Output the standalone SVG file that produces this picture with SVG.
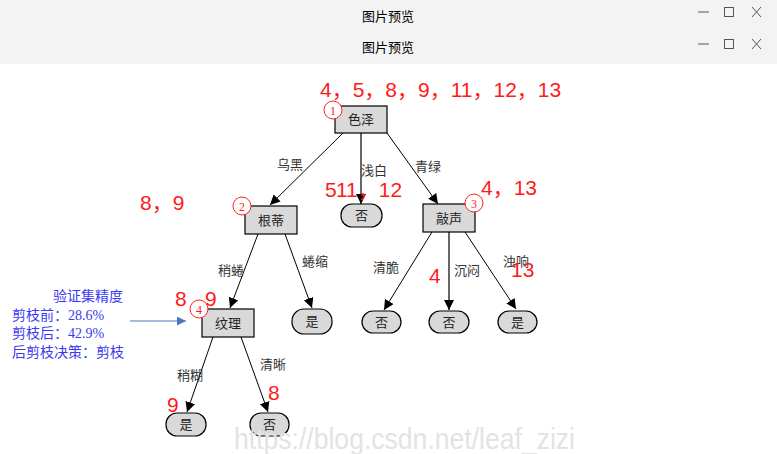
<svg xmlns="http://www.w3.org/2000/svg" width="777" height="454" viewBox="0 0 777 454">
<style>
.bar{fill:#f3f3f3}
.ttl{font-family:"Noto Sans CJK SC",sans-serif;font-size:13px;fill:#000;text-anchor:middle}
.ctl{stroke:#555;stroke-width:1;fill:none}
.box{fill:#d9d9d9;stroke:#000;stroke-width:1.2}
.lbl{font-family:"Noto Sans CJK SC",sans-serif;font-size:13px;fill:#222;text-anchor:middle}
.el{font-family:"Noto Sans CJK SC",sans-serif;font-size:13px;fill:#333;text-anchor:middle}
.red{font-family:"Liberation Sans",Arial,"Noto Sans CJK SC",sans-serif;font-size:21px;fill:#ff1a1a}
.circ{fill:#fff;stroke:#ff2020;stroke-width:1}
.cn{font-family:"Liberation Serif",serif;font-size:12px;fill:#ff2020;text-anchor:middle}
.edge{stroke:#000;stroke-width:1;fill:none}
.vedge{stroke:#666;stroke-width:2;fill:none}
.blue{font-family:"Liberation Serif","Noto Sans CJK SC",serif;font-size:14px;fill:#3a3aef}
.wm{font-family:"Liberation Sans",Arial,sans-serif;font-size:30px;fill:#e3e3e3}
</style>
<defs>
<marker id="ah" viewBox="0 0 10 10" refX="10" refY="5" markerWidth="10" markerHeight="10" markerUnits="userSpaceOnUse" orient="auto">
<path d="M0,0 L10,5 L0,10 z" fill="#000"/>
</marker>
<marker id="bh" viewBox="0 0 10 10" refX="10" refY="5" markerWidth="9" markerHeight="9" markerUnits="userSpaceOnUse" orient="auto">
<path d="M0,0 L10,5 L0,10 z" fill="#4a78b8"/>
</marker>
</defs>
<rect x="0" y="0" width="777" height="454" fill="#fff"/>
<g id="chrome">
<rect class="bar" x="0" y="0" width="777" height="64"/>
<text class="ttl" x="388" y="21">图片预览</text>
<text class="ttl" x="388" y="52">图片预览</text>
<line class="ctl" x1="698" y1="12" x2="709" y2="12"/>
<rect class="ctl" x="724.5" y="7.5" width="9" height="9"/>
<path class="ctl" d="M752,7 L761,17 M761,7 L752,17"/>
<line class="ctl" x1="698" y1="44" x2="709" y2="44"/>
<rect class="ctl" x="724.5" y="39.5" width="9" height="9"/>
<path class="ctl" d="M752,39 L761,49 M761,39 L752,49"/>
</g>
<g id="connectors">
<line class="edge" x1="343" y1="133" x2="270" y2="205" marker-end="url(#ah)"/>
<line class="vedge" x1="361" y1="133" x2="361" y2="204" marker-end="url(#ah)"/>
<line class="edge" x1="387" y1="133" x2="438" y2="204" marker-end="url(#ah)"/>
<line class="edge" x1="258" y1="234" x2="230" y2="308" marker-end="url(#ah)"/>
<line class="edge" x1="285" y1="234" x2="312" y2="308" marker-end="url(#ah)"/>
<line class="edge" x1="432" y1="232" x2="384" y2="310" marker-end="url(#ah)"/>
<line class="vedge" x1="449" y1="232" x2="449" y2="310" marker-end="url(#ah)"/>
<line class="edge" x1="465" y1="232" x2="516" y2="309" marker-end="url(#ah)"/>
<line class="edge" x1="213" y1="337" x2="187" y2="412" marker-end="url(#ah)"/>
<line class="edge" x1="241" y1="337" x2="268" y2="412" marker-end="url(#ah)"/>
<line x1="130" y1="321" x2="186" y2="321" stroke="#4a78b8" stroke-width="1.2" marker-end="url(#bh)"/>
<text class="el" x="290" y="169">乌黑</text>
<text class="el" x="374" y="175">浅白</text>
<text class="el" x="428" y="171">青绿</text>
<text class="el" x="231" y="275">稍蜷</text>
<text class="el" x="315" y="266">蜷缩</text>
<text class="el" x="386" y="272">清脆</text>
<text class="el" x="467" y="275">沉闷</text>
<text class="el" x="516" y="266">浊响</text>
<text class="el" x="190" y="380">稍糊</text>
<text class="el" x="273" y="369">清晰</text>
</g>
<g id="n1">
<rect class="box" x="335" y="106" width="52" height="27"/>
<text class="lbl" x="361" y="124">色泽</text>
<circle class="circ" cx="333" cy="110" r="9"/>
<text class="cn" x="333" y="114.5">1</text>
</g>
<g id="n2">
<rect class="box" x="245" y="206" width="52" height="28"/>
<text class="lbl" x="271" y="225">根蒂</text>
<circle class="circ" cx="242" cy="206" r="9"/>
<text class="cn" x="242" y="210.5">2</text>
</g>
<g id="n3">
<rect class="box" x="423" y="204" width="52" height="28"/>
<text class="lbl" x="449" y="223">敲声</text>
<circle class="circ" cx="474" cy="203" r="9"/>
<text class="cn" x="474" y="207.5">3</text>
</g>
<g id="n4">
<rect class="box" x="202" y="309" width="52" height="28"/>
<text class="lbl" x="228" y="328">纹理</text>
<circle class="circ" cx="199" cy="309" r="9"/>
<text class="cn" x="199" y="313.5">4</text>
</g>
<g id="l1"><rect class="box" x="341" y="204" width="41" height="23" rx="11"/><text class="lbl" x="361.5" y="220">否</text></g>
<g id="l2"><rect class="box" x="292" y="309" width="40" height="25" rx="12"/><text class="lbl" x="312" y="326">是</text></g>
<g id="l3"><rect class="box" x="362" y="311" width="39" height="22" rx="11"/><text class="lbl" x="381.5" y="327">否</text></g>
<g id="l4"><rect class="box" x="429" y="311" width="40" height="22" rx="11"/><text class="lbl" x="449" y="327">否</text></g>
<g id="l5"><rect class="box" x="498" y="311" width="39" height="22" rx="11"/><text class="lbl" x="517.5" y="327">是</text></g>
<g id="l6"><rect class="box" x="166" y="413" width="40" height="23" rx="11"/><text class="lbl" x="186" y="429">是</text></g>
<g id="l7"><rect class="box" x="250" y="413" width="39" height="23" rx="11"/><text class="lbl" x="269.5" y="429">否</text></g>
<g id="annotations">
<text class="red" x="320" y="97">4，5，8，9，11，12，13</text>
<text class="red" x="140" y="210">8，9</text>
<text class="red" x="325" y="197">5</text>
<text class="red" x="336" y="197">11，12</text>
<text class="red" x="481" y="195">4，13</text>
<text class="red" x="429" y="283">4</text>
<text class="red" x="511" y="277">13</text>
<text class="red" x="175" y="306">8</text>
<text class="red" x="205" y="306">9</text>
<text class="red" x="167" y="412">9</text>
<text class="red" x="268" y="400">8</text>
<text class="blue" x="53" y="301">验证集精度</text>
<text class="blue" x="12" y="320">剪枝前：28.6%</text>
<text class="blue" x="12" y="338">剪枝后：42.9%</text>
<text class="blue" x="12" y="357">后剪枝决策：剪枝</text>
<text class="wm" x="234" y="449" textLength="341" lengthAdjust="spacingAndGlyphs">https://blog.csdn.net/leaf_zizi</text>
</g>
</svg>
